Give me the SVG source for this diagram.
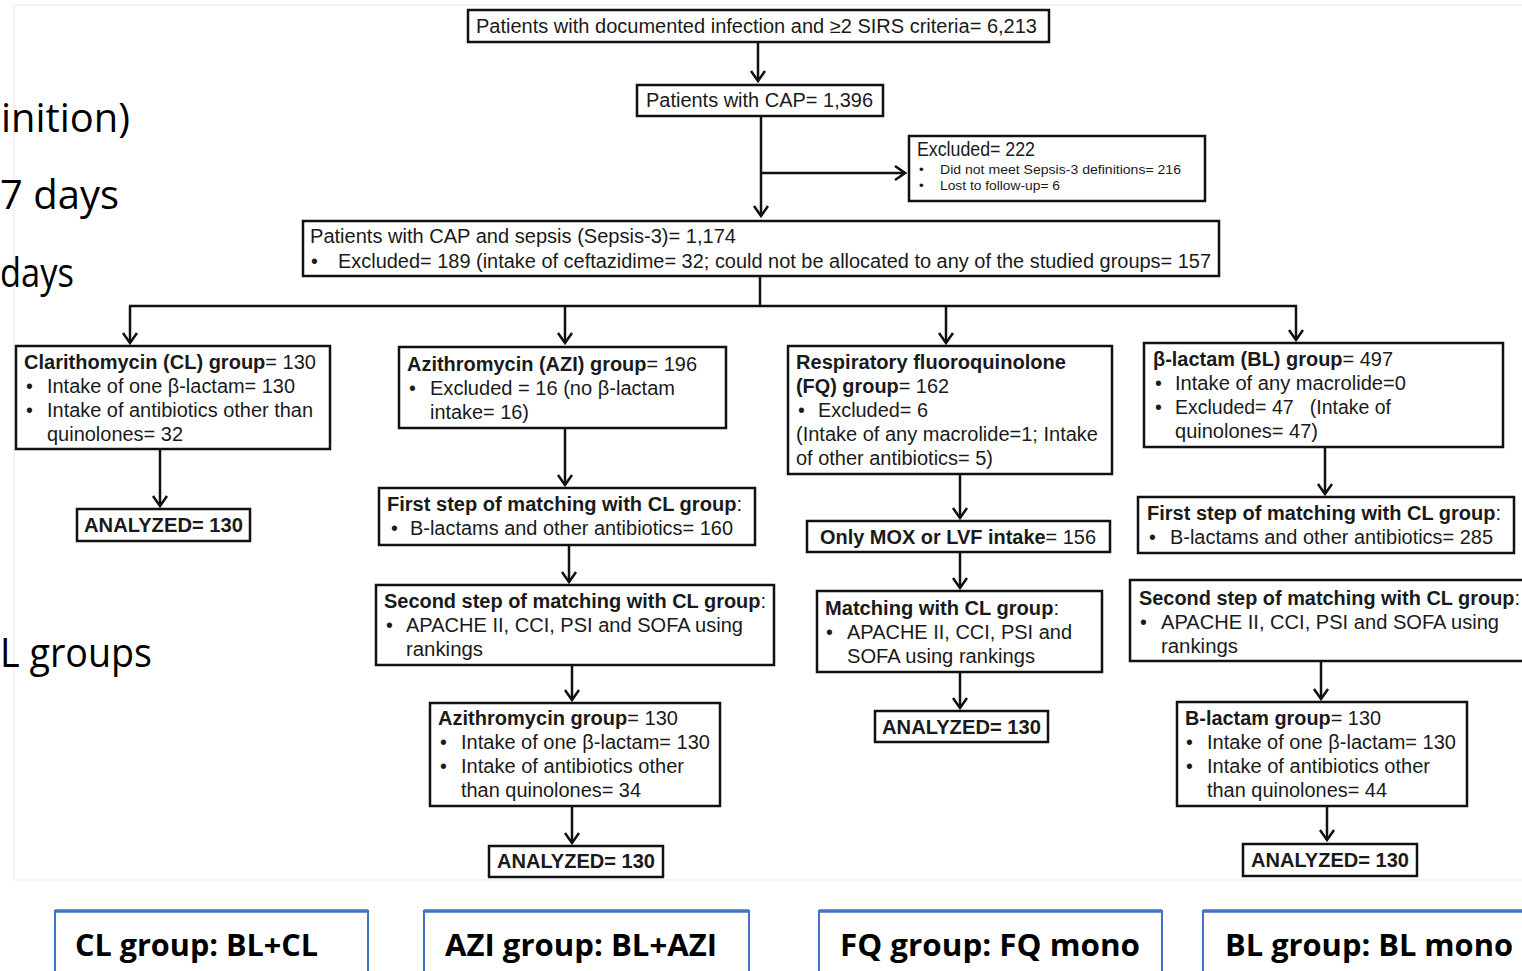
<svg xmlns="http://www.w3.org/2000/svg" width="1522" height="971" viewBox="0 0 1522 971">
<style>
.bx{fill:#fff;stroke:#111;stroke-width:2.5}
.t{font-family:"Liberation Sans",Arial,sans-serif;font-size:19.5px;fill:#1a1a1a}
.s{font-family:"Liberation Sans",Arial,sans-serif;font-size:13.5px;fill:#1a1a1a}
.bd{font-weight:bold}
.c{stroke:#111;stroke-width:2.5;fill:none}
.big{font-family:"Open Sans","Noto Sans",sans-serif;font-size:40px;fill:#000}
.bb{fill:#fff;stroke:#4472C4;stroke-width:2}
.bt{stroke:#4472C4;stroke-width:3.5}
.bl{font-family:"Open Sans","Noto Sans",sans-serif;font-weight:bold;font-size:30px;fill:#000}
</style>
<defs>
<marker id="ah" viewBox="-12 -10 14 20" refX="0" refY="0" markerWidth="14" markerHeight="20" markerUnits="userSpaceOnUse" orient="auto">
<path d="M-10,-7 L0,0 L-10,7" fill="none" stroke="#111" stroke-width="2.5"/>
</marker>
</defs>
<rect x="0" y="0" width="1522" height="971" fill="#fff"/>
<rect x="14" y="5" width="1530" height="875" fill="#fff" stroke="#efefef" stroke-width="1.5"/>

<g id="background-text">
<text class="big" x="1" y="132" textLength="129" lengthAdjust="spacingAndGlyphs">inition)</text>
<text class="big" x="0" y="209" textLength="119" lengthAdjust="spacingAndGlyphs">7 days</text>
<text class="big" x="0" y="287" textLength="74" lengthAdjust="spacingAndGlyphs">days</text>
<text class="big" x="0" y="667" textLength="152" lengthAdjust="spacingAndGlyphs">L groups</text>
</g>

<g id="connectors">
<line class="c" x1="758" y1="42" x2="758" y2="81" marker-end="url(#ah)"/>
<line class="c" x1="761" y1="116" x2="761" y2="216" marker-end="url(#ah)"/>
<line class="c" x1="761" y1="173" x2="905" y2="173" marker-end="url(#ah)"/>
<line class="c" x1="760" y1="276" x2="760" y2="306"/>
<line class="c" x1="129" y1="306" x2="1297" y2="306"/>
<line class="c" x1="130" y1="306" x2="130" y2="343" marker-end="url(#ah)"/>
<line class="c" x1="565" y1="306" x2="565" y2="343" marker-end="url(#ah)"/>
<line class="c" x1="946" y1="306" x2="946" y2="343" marker-end="url(#ah)"/>
<line class="c" x1="1296" y1="306" x2="1296" y2="340" marker-end="url(#ah)"/>
<line class="c" x1="160" y1="449" x2="160" y2="506" marker-end="url(#ah)"/>
<line class="c" x1="565" y1="428" x2="565" y2="485" marker-end="url(#ah)"/>
<line class="c" x1="569" y1="545" x2="569" y2="582" marker-end="url(#ah)"/>
<line class="c" x1="572" y1="665" x2="572" y2="700" marker-end="url(#ah)"/>
<line class="c" x1="572" y1="806" x2="572" y2="843" marker-end="url(#ah)"/>
<line class="c" x1="960" y1="474" x2="960" y2="518" marker-end="url(#ah)"/>
<line class="c" x1="960" y1="552" x2="960" y2="588" marker-end="url(#ah)"/>
<line class="c" x1="960" y1="672" x2="960" y2="708" marker-end="url(#ah)"/>
<line class="c" x1="1325" y1="447" x2="1325" y2="494" marker-end="url(#ah)"/>
<line class="c" x1="1321" y1="661" x2="1321" y2="699" marker-end="url(#ah)"/>
<line class="c" x1="1327" y1="806" x2="1327" y2="840" marker-end="url(#ah)"/>
</g>

<g id="n-sirs">
<rect class="bx" x="468" y="10" width="581" height="32"/>
<text class="t" x="476" y="33" textLength="561" lengthAdjust="spacingAndGlyphs">Patients with documented infection and ≥2 SIRS criteria= 6,213</text>
</g>
<g id="n-cap">
<rect class="bx" x="637" y="85" width="246" height="31"/>
<text class="t" x="646" y="107" textLength="227" lengthAdjust="spacingAndGlyphs">Patients with CAP= 1,396</text>
</g>
<g id="n-excluded">
<rect class="bx" x="909" y="136" width="296" height="65" stroke-width="2"/>
<text class="t" x="917" y="156" font-size="17" textLength="118" lengthAdjust="spacingAndGlyphs">Excluded= 222</text>
<text class="s" x="919" y="174">•</text>
<text class="s" x="940" y="174" textLength="241" lengthAdjust="spacingAndGlyphs">Did not meet Sepsis-3 definitions= 216</text>
<text class="s" x="919" y="190">•</text>
<text class="s" x="940" y="190" textLength="120" lengthAdjust="spacingAndGlyphs">Lost to follow-up= 6</text>
</g>
<g id="n-sepsis">
<rect class="bx" x="303" y="221" width="916" height="55"/>
<text class="t" x="310" y="243" textLength="426" lengthAdjust="spacingAndGlyphs">Patients with CAP and sepsis (Sepsis-3)= 1,174</text>
<text class="t" x="311" y="268">•</text>
<text class="t" x="338" y="268" textLength="873" lengthAdjust="spacingAndGlyphs">Excluded= 189 (intake of ceftazidime= 32; could not be allocated to any of the studied groups= 157</text>
</g>

<g id="n-cl">
<rect class="bx" x="16" y="346" width="314" height="103"/>
<text class="t" x="24" y="369" textLength="292" lengthAdjust="spacingAndGlyphs"><tspan class="bd">Clarithomycin (CL) group</tspan>= 130</text>
<text class="t" x="26" y="393">•</text>
<text class="t" x="47" y="393" textLength="248" lengthAdjust="spacingAndGlyphs">Intake of one β-lactam= 130</text>
<text class="t" x="26" y="417">•</text>
<text class="t" x="47" y="417" textLength="266" lengthAdjust="spacingAndGlyphs">Intake of antibiotics other than</text>
<text class="t" x="47" y="441" textLength="136" lengthAdjust="spacingAndGlyphs">quinolones= 32</text>
</g>
<g id="n-cl-analyzed">
<rect class="bx" x="77" y="509" width="173" height="32"/>
<text class="t bd" x="84" y="532" textLength="159" lengthAdjust="spacingAndGlyphs">ANALYZED= 130</text>
</g>

<g id="n-azi">
<rect class="bx" x="399" y="347" width="327" height="81"/>
<text class="t" x="407" y="371" textLength="290" lengthAdjust="spacingAndGlyphs"><tspan class="bd">Azithromycin (AZI) group</tspan>= 196</text>
<text class="t" x="409" y="395">•</text>
<text class="t" x="430" y="395" textLength="245" lengthAdjust="spacingAndGlyphs">Excluded = 16 (no β-lactam</text>
<text class="t" x="430" y="419" textLength="99" lengthAdjust="spacingAndGlyphs">intake= 16)</text>
</g>
<g id="n-azi-first">
<rect class="bx" x="379" y="488" width="376" height="57"/>
<text class="t" x="387" y="511" textLength="355" lengthAdjust="spacingAndGlyphs"><tspan class="bd">First step of matching with CL group</tspan>:</text>
<text class="t" x="391" y="535">•</text>
<text class="t" x="410" y="535" textLength="323" lengthAdjust="spacingAndGlyphs">B-lactams and other antibiotics= 160</text>
</g>
<g id="n-azi-second">
<rect class="bx" x="376" y="585" width="398" height="80"/>
<text class="t" x="384" y="608" textLength="382" lengthAdjust="spacingAndGlyphs"><tspan class="bd">Second step of matching with CL group</tspan>:</text>
<text class="t" x="386" y="632">•</text>
<text class="t" x="406" y="632" textLength="337" lengthAdjust="spacingAndGlyphs">APACHE II, CCI, PSI and SOFA using</text>
<text class="t" x="406" y="656" textLength="77" lengthAdjust="spacingAndGlyphs">rankings</text>
</g>
<g id="n-azi-130">
<rect class="bx" x="430" y="703" width="290" height="103"/>
<text class="t" x="438" y="725" textLength="240" lengthAdjust="spacingAndGlyphs"><tspan class="bd">Azithromycin group</tspan>= 130</text>
<text class="t" x="440" y="749">•</text>
<text class="t" x="461" y="749" textLength="249" lengthAdjust="spacingAndGlyphs">Intake of one β-lactam= 130</text>
<text class="t" x="440" y="773">•</text>
<text class="t" x="461" y="773" textLength="223" lengthAdjust="spacingAndGlyphs">Intake of antibiotics other</text>
<text class="t" x="461" y="797" textLength="180" lengthAdjust="spacingAndGlyphs">than quinolones= 34</text>
</g>
<g id="n-azi-analyzed">
<rect class="bx" x="489" y="846" width="174" height="31"/>
<text class="t bd" x="497" y="868" textLength="158" lengthAdjust="spacingAndGlyphs">ANALYZED= 130</text>
</g>

<g id="n-fq">
<rect class="bx" x="788" y="346" width="324" height="128"/>
<text class="t bd" x="796" y="369" textLength="270" lengthAdjust="spacingAndGlyphs">Respiratory fluoroquinolone</text>
<text class="t" x="796" y="393" textLength="153" lengthAdjust="spacingAndGlyphs"><tspan class="bd">(FQ) group</tspan>= 162</text>
<text class="t" x="798" y="417">•</text>
<text class="t" x="818" y="417" textLength="110" lengthAdjust="spacingAndGlyphs">Excluded= 6</text>
<text class="t" x="796" y="441" textLength="302" lengthAdjust="spacingAndGlyphs">(Intake of any macrolide=1; Intake</text>
<text class="t" x="796" y="465" textLength="197" lengthAdjust="spacingAndGlyphs">of other antibiotics= 5)</text>
</g>
<g id="n-fq-mox">
<rect class="bx" x="807" y="521" width="303" height="31"/>
<text class="t" x="820" y="544" textLength="276" lengthAdjust="spacingAndGlyphs"><tspan class="bd">Only MOX or LVF intake</tspan>= 156</text>
</g>
<g id="n-fq-matching">
<rect class="bx" x="817" y="591" width="285" height="81"/>
<text class="t" x="825" y="615" textLength="234" lengthAdjust="spacingAndGlyphs"><tspan class="bd">Matching with CL group</tspan>:</text>
<text class="t" x="826" y="639">•</text>
<text class="t" x="847" y="639" textLength="225" lengthAdjust="spacingAndGlyphs">APACHE II, CCI, PSI and</text>
<text class="t" x="847" y="663" textLength="188" lengthAdjust="spacingAndGlyphs">SOFA using rankings</text>
</g>
<g id="n-fq-analyzed">
<rect class="bx" x="875" y="711" width="173" height="31"/>
<text class="t bd" x="882" y="734" textLength="159" lengthAdjust="spacingAndGlyphs">ANALYZED= 130</text>
</g>

<g id="n-bl">
<rect class="bx" x="1144" y="343" width="359" height="104"/>
<text class="t" x="1153" y="366" textLength="240" lengthAdjust="spacingAndGlyphs"><tspan class="bd">β-lactam (BL) group</tspan>= 497</text>
<text class="t" x="1155" y="390">•</text>
<text class="t" x="1175" y="390" textLength="231" lengthAdjust="spacingAndGlyphs">Intake of any macrolide=0</text>
<text class="t" x="1155" y="414">•</text>
<text class="t" x="1175" y="414" textLength="216" lengthAdjust="spacingAndGlyphs" xml:space="preserve">Excluded= 47   (Intake of</text>
<text class="t" x="1175" y="438" textLength="143" lengthAdjust="spacingAndGlyphs">quinolones= 47)</text>
</g>
<g id="n-bl-first">
<rect class="bx" x="1138" y="497" width="376" height="56"/>
<text class="t" x="1147" y="520" textLength="354" lengthAdjust="spacingAndGlyphs"><tspan class="bd">First step of matching with CL group</tspan>:</text>
<text class="t" x="1149" y="544">•</text>
<text class="t" x="1170" y="544" textLength="323" lengthAdjust="spacingAndGlyphs">B-lactams and other antibiotics= 285</text>
</g>
<g id="n-bl-second">
<rect class="bx" x="1130" y="580" width="410" height="81"/>
<text class="t" x="1139" y="605" textLength="381" lengthAdjust="spacingAndGlyphs"><tspan class="bd">Second step of matching with CL group</tspan>:</text>
<text class="t" x="1140" y="629">•</text>
<text class="t" x="1161" y="629" textLength="338" lengthAdjust="spacingAndGlyphs">APACHE II, CCI, PSI and SOFA using</text>
<text class="t" x="1161" y="653" textLength="77" lengthAdjust="spacingAndGlyphs">rankings</text>
</g>
<g id="n-bl-130">
<rect class="bx" x="1177" y="702" width="290" height="104"/>
<text class="t" x="1185" y="725" textLength="196" lengthAdjust="spacingAndGlyphs"><tspan class="bd">B-lactam group</tspan>= 130</text>
<text class="t" x="1186" y="749">•</text>
<text class="t" x="1207" y="749" textLength="249" lengthAdjust="spacingAndGlyphs">Intake of one β-lactam= 130</text>
<text class="t" x="1186" y="773">•</text>
<text class="t" x="1207" y="773" textLength="223" lengthAdjust="spacingAndGlyphs">Intake of antibiotics other</text>
<text class="t" x="1207" y="797" textLength="180" lengthAdjust="spacingAndGlyphs">than quinolones= 44</text>
</g>
<g id="n-bl-analyzed">
<rect class="bx" x="1243" y="844" width="174" height="32"/>
<text class="t bd" x="1251" y="867" textLength="158" lengthAdjust="spacingAndGlyphs">ANALYZED= 130</text>
</g>

<g id="legend-cl">
<rect class="bb" x="55" y="911" width="313" height="80"/>
<line class="bt" x1="55" y1="911" x2="368" y2="911"/>
<text class="bl" x="75" y="956" textLength="243" lengthAdjust="spacingAndGlyphs">CL group: BL+CL</text>
</g>
<g id="legend-azi">
<rect class="bb" x="424" y="911" width="325" height="80"/>
<line class="bt" x1="424" y1="911" x2="749" y2="911"/>
<text class="bl" x="445" y="956" textLength="272" lengthAdjust="spacingAndGlyphs">AZI group: BL+AZI</text>
</g>
<g id="legend-fq">
<rect class="bb" x="819" y="911" width="343" height="80"/>
<line class="bt" x1="819" y1="911" x2="1162" y2="911"/>
<text class="bl" x="840" y="956" textLength="300" lengthAdjust="spacingAndGlyphs">FQ group: FQ mono</text>
</g>
<g id="legend-bl">
<rect class="bb" x="1203" y="911" width="340" height="80"/>
<line class="bt" x1="1203" y1="911" x2="1522" y2="911"/>
<text class="bl" x="1225" y="956" textLength="288" lengthAdjust="spacingAndGlyphs">BL group: BL mono</text>
</g>
</svg>
